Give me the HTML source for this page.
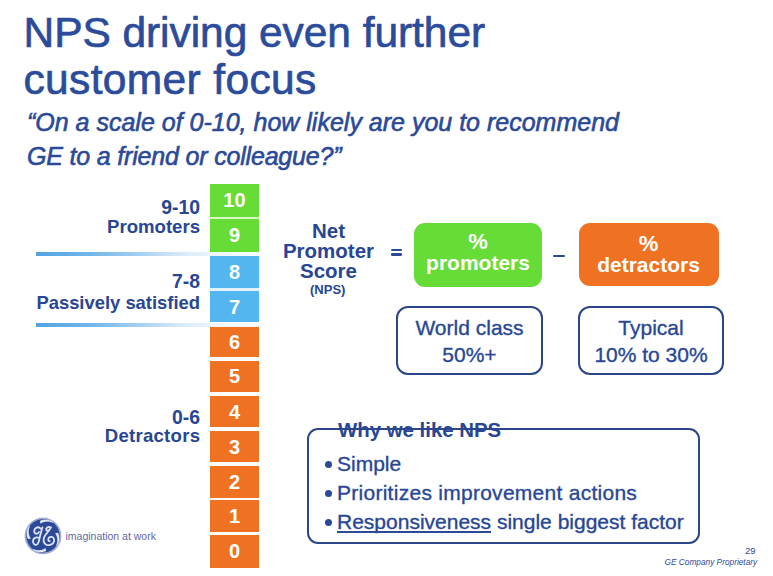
<!DOCTYPE html>
<html><head><meta charset="utf-8">
<style>
*{margin:0;padding:0;box-sizing:border-box}
html,body{width:773px;height:576px;background:#fff;overflow:hidden}
body{position:relative;font-family:"Liberation Sans",sans-serif;color:#284693}
.a{position:absolute;white-space:nowrap}
.t1{font-size:42.5px;line-height:47px;left:23.5px;top:8.6px;color:#2b4b9b;-webkit-text-stroke:0.7px #2b4b9b;letter-spacing:-0.06px}
.t2{font-size:42.5px;line-height:47px;left:23.5px;top:55.6px;color:#2b4b9b;-webkit-text-stroke:0.7px #2b4b9b;letter-spacing:0.35px}
.sub{font-style:italic;font-size:25px;line-height:34px;left:27px;color:#2a4a98;-webkit-text-stroke:0.6px #2a4a98}
.lab{font-weight:bold;font-size:18.6px;line-height:20px;text-align:right;right:573px}
.dg{font-size:19.4px}
.box{position:absolute;left:209.8px;width:49.3px;color:#fff;font-weight:bold;font-size:20px;text-align:center;line-height:33px}
.g{background:#66dc36}
.b{background:#53b6ef}
.o{background:#ee7221}
.ln{position:absolute;left:36px;width:250px;height:4px;background:linear-gradient(to right,#52a3e2 0%,#72b6ea 22%,#a6d0f2 42%,#d8eaf8 58%,#eef6fc 72%,#ffffff 100%)}
.nps{font-weight:bold;font-size:20.5px;line-height:20px;text-align:center;left:268.5px;width:120px}
.pw{color:#fff;font-weight:bold;text-align:center}
.pill{position:absolute;border-radius:11px;color:#fff;font-weight:bold;font-size:20.5px;text-align:center}
.ob{position:absolute;border:2px solid #2b4589;-webkit-text-stroke:0.35px #2a4a98;border-radius:12px;text-align:center;font-size:21px;line-height:27px}
.why{position:absolute;left:307px;top:428.2px;width:393.2px;height:115.8px;border:2px solid #2c4789;border-radius:11px}
.bl{-webkit-text-stroke:0.35px #2a4a98;font-size:21px;line-height:29px;left:337px}
.dot{position:absolute;width:7px;height:7px;border-radius:50%;background:#2a4a98;left:325px}
</style></head><body>
<div class="a t1">NPS driving even further</div>
<div class="a t2">customer focus</div>
<div class="a sub" style="top:104.6px">“On a scale of 0-10, how likely are you to recommend</div>
<div class="a sub" style="top:138.6px;letter-spacing:-0.18px">GE to a friend or colleague?”</div>

<div class="ln" style="top:252px"></div>
<div class="ln" style="top:323px"></div>

<div class="a" style="left:209.8px;width:49.3px;top:216px;height:4px;background:#d8fbc4"></div>
<div class="a" style="left:209.8px;width:49.3px;top:287px;height:4px;background:#e2f2fc"></div>
<div class="box g" style="top:184.4px;height:32.4px;line-height:33.4px">10</div>
<div class="box g" style="top:219.2px;height:32.7px;line-height:33.7px">9</div>
<div class="box b" style="top:256.2px;height:31.6px;line-height:32.6px">8</div>
<div class="box b" style="top:290.7px;height:31.0px;line-height:32.0px">7</div>
<div class="box o" style="top:326.7px;height:30.8px;line-height:31.8px">6</div>
<div class="box o" style="top:361.4px;height:30.9px;line-height:31.9px">5</div>
<div class="box o" style="top:396.2px;height:31.3px;line-height:32.3px">4</div>
<div class="box o" style="top:431.2px;height:31.3px;line-height:32.3px">3</div>
<div class="box o" style="top:465.8px;height:31.9px;line-height:32.9px">2</div>
<div class="box o" style="top:500.3px;height:31.8px;line-height:32.8px">1</div>
<div class="box o" style="top:534.8px;height:32.9px;line-height:33.9px">0</div>

<div class="a lab dg" style="top:197px">9-10</div>
<div class="a lab" style="top:216.5px">Promoters</div>
<div class="a lab dg" style="top:270.9px">7-8</div>
<div class="a lab" style="top:292.6px;font-size:18.4px">Passively satisfied</div>
<div class="a lab dg" style="top:406.9px">0-6</div>
<div class="a lab" style="top:426px"><span style="letter-spacing:0.25px;margin-right:-0.25px">Detractors</span></div>

<div class="a nps" style="top:221px">Net<br>Promoter<br>Score</div>
<div class="a" style="left:310px;top:282px;font-weight:bold;font-size:13px;line-height:16px">(NPS)</div>
<div class="a" style="left:391px;top:248.8px;width:11px;height:2.6px;border-radius:1.2px;background:#2a4a98"></div>
<div class="a" style="left:391px;top:253.3px;width:11px;height:2.4px;border-radius:1.2px;background:#2a4a98"></div>

<div class="pill g" style="left:414.3px;top:223.2px;width:127.6px;height:63.8px"></div>
<div class="a pw" style="left:414px;width:128px;top:230px;font-size:22px;line-height:24px">%</div>
<div class="a pw" style="left:414px;width:128px;top:250.3px;font-size:21px;line-height:26px">promoters</div>
<div class="a" style="left:553px;top:254.6px;width:12px;height:2.2px;border-radius:1px;background:#2a4a98"></div>
<div class="pill o" style="left:578.8px;top:223.2px;width:139.8px;height:63.3px"></div>
<div class="a pw" style="left:579px;width:139px;top:231.5px;font-size:22px;line-height:24px">%</div>
<div class="a pw" style="left:579px;width:139px;top:251.5px;font-size:21px;line-height:26px">detractors</div>

<div class="ob" style="left:396px;top:306px;width:147px;height:69px;padding-top:5.8px">World class<br>50%+</div>
<div class="ob" style="left:578px;top:306px;width:146px;height:69px;padding-top:5.8px">Typical<br>10% to 30%</div>

<div class="why"></div>
<div class="a" style="left:338px;top:418px;font-weight:bold;font-size:20.4px;line-height:24px">Why we like NPS</div>
<div class="dot" style="top:461px"></div>
<div class="dot" style="top:490px"></div>
<div class="dot" style="top:519px"></div>
<div class="a bl" style="top:449px">Simple</div>
<div class="a bl" style="top:478px;letter-spacing:0.27px">Prioritizes improvement actions</div>
<div class="a bl" style="top:507px"><span style="text-decoration:underline;text-decoration-skip-ink:none;text-decoration-thickness:1.6px;text-underline-offset:2px">Responsiveness</span> single biggest factor</div>

<svg class="a" style="left:24px;top:517px" width="38" height="38" viewBox="0 0 38 38">
<circle cx="19" cy="18.9" r="18.4" fill="#a3adcd"/>
<circle cx="19" cy="18.9" r="16.7" fill="#2b4a9a"/>
<g fill="#e2e7f5">
<path d="M15.82 3.93 L16.31 3.64 L16.83 3.43 L17.36 3.25 L17.90 3.10 L18.44 2.97 L19.00 2.87 L19.56 2.80 L20.13 2.74 L20.70 2.71 L21.28 2.71 L21.85 2.72 L22.43 2.76 L23.01 2.82 L23.59 2.91 L24.16 3.01 L24.74 3.14 L25.31 3.29 L25.87 3.46 L26.43 3.66 L26.99 3.87 L27.54 4.11 L28.08 4.37 L28.61 4.65 L29.14 4.94 L28.61 5.67 L28.06 5.46 L27.51 5.28 L26.96 5.12 L26.40 4.98 L25.85 4.86 L25.29 4.77 L24.74 4.70 L24.19 4.65 L23.64 4.62 L23.10 4.61 L22.56 4.63 L22.02 4.67 L21.50 4.73 L20.98 4.81 L20.47 4.91 L19.97 5.04 L19.48 5.18 L19.00 5.35 L18.53 5.53 L18.08 5.74 L17.64 5.97 L17.22 6.23 L16.82 6.51 L16.44 6.87Z"/>
<path d="M33.97 15.72 L34.26 16.21 L34.47 16.73 L34.65 17.26 L34.80 17.80 L34.93 18.34 L35.03 18.90 L35.10 19.46 L35.16 20.03 L35.19 20.60 L35.19 21.18 L35.18 21.75 L35.14 22.33 L35.08 22.91 L34.99 23.49 L34.89 24.06 L34.76 24.64 L34.61 25.21 L34.44 25.77 L34.24 26.33 L34.03 26.89 L33.79 27.44 L33.53 27.98 L33.25 28.51 L32.96 29.04 L32.23 28.51 L32.44 27.96 L32.62 27.41 L32.78 26.86 L32.92 26.30 L33.04 25.75 L33.13 25.19 L33.20 24.64 L33.25 24.09 L33.28 23.54 L33.29 23.00 L33.27 22.46 L33.23 21.92 L33.17 21.40 L33.09 20.88 L32.99 20.37 L32.86 19.87 L32.72 19.38 L32.55 18.90 L32.37 18.43 L32.16 17.98 L31.93 17.54 L31.67 17.12 L31.39 16.72 L31.03 16.34Z"/>
<path d="M22.18 33.87 L21.69 34.16 L21.17 34.37 L20.64 34.55 L20.10 34.70 L19.56 34.83 L19.00 34.93 L18.44 35.00 L17.87 35.06 L17.30 35.09 L16.72 35.09 L16.15 35.08 L15.57 35.04 L14.99 34.98 L14.41 34.89 L13.84 34.79 L13.26 34.66 L12.69 34.51 L12.13 34.34 L11.57 34.14 L11.01 33.93 L10.46 33.69 L9.92 33.43 L9.39 33.15 L8.86 32.86 L9.39 32.13 L9.94 32.34 L10.49 32.52 L11.04 32.68 L11.60 32.82 L12.15 32.94 L12.71 33.03 L13.26 33.10 L13.81 33.15 L14.36 33.18 L14.90 33.19 L15.44 33.17 L15.98 33.13 L16.50 33.07 L17.02 32.99 L17.53 32.89 L18.03 32.76 L18.52 32.62 L19.00 32.45 L19.47 32.27 L19.92 32.06 L20.36 31.83 L20.78 31.57 L21.18 31.29 L21.56 30.93Z"/>
<path d="M4.03 22.08 L3.74 21.59 L3.53 21.07 L3.35 20.54 L3.20 20.00 L3.07 19.46 L2.97 18.90 L2.90 18.34 L2.84 17.77 L2.81 17.20 L2.81 16.62 L2.82 16.05 L2.86 15.47 L2.92 14.89 L3.01 14.31 L3.11 13.74 L3.24 13.16 L3.39 12.59 L3.56 12.03 L3.76 11.47 L3.97 10.91 L4.21 10.36 L4.47 9.82 L4.75 9.29 L5.04 8.76 L5.77 9.29 L5.56 9.84 L5.38 10.39 L5.22 10.94 L5.08 11.50 L4.96 12.05 L4.87 12.61 L4.80 13.16 L4.75 13.71 L4.72 14.26 L4.71 14.80 L4.73 15.34 L4.77 15.88 L4.83 16.40 L4.91 16.92 L5.01 17.43 L5.14 17.93 L5.28 18.42 L5.45 18.90 L5.63 19.37 L5.84 19.82 L6.07 20.26 L6.33 20.68 L6.61 21.08 L6.97 21.46Z"/>
</g>
<g fill="none" stroke="#dfe5f4" stroke-linecap="round">
<g stroke-width="1.8">
<path d="M16.6 11.6 C15.5 10.2 13.4 10.1 11.9 11.1 C9.9 12.5 9.6 15.2 11.4 16.4 C12.8 17.2 14.6 16.3 15 14.8"/>
<path d="M18.4 10.4 C17 15 15.9 19 15.3 22.4 C14.7 26 13.3 28.2 11.6 27.9 C9.6 27.6 8.6 25 9.2 23 C9.8 21 12 20 14.2 20.7"/>
<path d="M26.6 10.2 C25 9.4 22.6 10 22.2 11.8 C21.8 13.6 23.6 14.2 24.8 13.4"/>
<path d="M26.9 10.6 C25.1 13.5 22.9 16 21.4 18.1 C19.7 20.6 19.1 24 20.5 26.2 C21.9 28.4 25.1 28.6 27.5 27.4 C29.9 26.2 30.7 23.4 29.7 21.4 C28.7 19.6 25.9 19.4 24.7 21 C23.7 22.4 24.3 24.2 25.7 24.2"/>
</g>
</svg>
<div class="a" style="left:65.5px;top:528.3px;font-size:10.5px;line-height:16px;color:#5f68a3">imagination at work</div>
<div class="a" style="left:745px;top:545px;font-size:9.5px;line-height:12px;color:#2a4a98">29</div>
<div class="a" style="left:664.5px;top:556.2px;font-size:8.3px;line-height:12px;font-style:italic;color:#2a4a98">GE Company Proprietary</div>
</body></html>
